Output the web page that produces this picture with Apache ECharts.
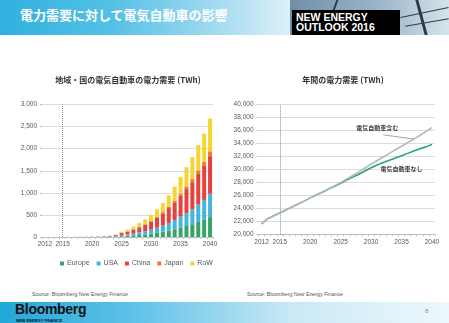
<!DOCTYPE html>
<html><head><meta charset="utf-8">
<script src="https://cdn.jsdelivr.net/npm/echarts@6/dist/echarts.min.js"></script>
<style>
html,body{margin:0;padding:0;width:449px;height:323px;overflow:hidden;background:#fff;font-family:"Liberation Sans",Arial,sans-serif;}
#hdr{position:absolute;left:0;top:0;width:449px;height:35px;background:linear-gradient(90deg,#2fb1df 0%,#55c0e6 25%,#a9dcf1 50%,#dff1f9 65%);}
#photo{position:absolute;left:290px;top:0;width:159px;height:35px;background:linear-gradient(90deg,#6f8ea6 0%,#9fb9cc 60%,#d6e3ec 100%);overflow:hidden;}
#photo i{position:absolute;background:#2d3a44;}
#ttl{position:absolute;left:20px;top:6px;font-family:"Noto Sans CJK JP";font-weight:bold;font-size:13px;color:#fff;letter-spacing:0px;line-height:17px;}
#neo{position:absolute;left:292px;top:10px;width:108px;height:25px;background:#000;color:#fff;font-family:"Liberation Sans",Arial;font-weight:bold;font-size:10.5px;line-height:9.5px;padding:3px 0 0 4px;box-sizing:border-box;}
#ftr{position:absolute;left:0;top:302px;width:449px;height:21px;background:linear-gradient(90deg,#22a7d9 0%,#5fc2e8 30%,#c9e9f6 65%,#eef8fc 100%);}
#bb{position:absolute;left:15px;top:301px;font-family:"Liberation Sans",Arial;font-weight:bold;font-size:14px;color:#111;letter-spacing:-0.3px;}
#nef{position:absolute;left:16px;top:317.5px;font-family:"Liberation Sans",Arial;font-weight:bold;font-size:4px;color:#111;}
#pg{position:absolute;left:425px;top:308px;font-size:6px;color:#888;}
.src{position:absolute;top:291px;font-size:5.3px;color:#555;}
#c{position:absolute;left:0;top:0;width:449px;height:323px;}
</style></head><body>
<div id="hdr"></div>
<div id="photo"><i style="left:40px;top:0;width:2px;height:35px;transform:skewX(-20deg)"></i><i style="left:130px;top:0;width:3px;height:35px;transform:skewX(15deg)"></i><i style="left:110px;top:12px;width:49px;height:1px;transform:rotate(-12deg)"></i><i style="left:115px;top:22px;width:44px;height:1px;transform:rotate(-10deg)"></i></div>
<div id="ttl">電力需要に対して電気自動車の影響</div>
<div id="neo">NEW ENERGY<br>OUTLOOK 2016</div>
<div class="src" style="left:32px">Source: Bloomberg New Energy Finance</div>
<div class="src" style="left:247px">Source: Bloomberg New Energy Finance</div>
<div id="ftr"></div>
<div id="bb">Bloomberg</div>
<div id="nef">NEW ENERGY FINANCE</div>
<div id="pg">8</div>
<div id="c"></div>
<script>
const years = ['2012','2013','2014','2015','2016','2017','2018','2019','2020','2021','2022','2023','2024','2025','2026','2027','2028','2029','2030','2031','2032','2033','2034','2035','2036','2037','2038','2039','2040'];
const europe = [0,0,0,0,1,1,1,1,2,3,4,6,10,19,27,36,47,60,75,95,118,147,175,210,250,290,340,390,450];
const usa    = [0,0,0,0,1,1,1,2,2,3,4,7,12,23,33,44,58,72,92,115,140,172,210,250,295,340,395,450,530];
const china  = [0,0,0,1,1,1,2,2,3,5,8,12,22,47,63,86,115,145,180,225,278,336,400,470,540,610,690,770,850];
const japan  = [0,0,0,0,0,0,0,0,0,1,1,1,2,4,6,8,11,14,18,22,27,33,40,50,60,72,85,95,110];
const row    = [0,0,0,0,0,0,0,0,1,2,3,4,8,27,41,61,84,109,135,168,207,257,315,380,435,498,570,635,740];
const withEV    = [21600,22400,22850,23300,23750,24200,24650,25100,25600,26050,26500,27000,27450,27950,28500,29050,29600,30200,30800,31350,31900,32450,33000,33550,34100,34650,35200,35800,36400];
const withoutEV = [21600,22400,22850,23300,23750,24200,24650,25100,25600,26050,26480,26950,27400,27850,28350,28800,29250,29750,30250,30650,31050,31400,31750,32100,32450,32800,33150,33450,33800];
const barNames = ['Europe','USA','China','Japan','RoW'];
const barColors = ['#35a466','#45b5de','#e8403d','#f07a2f','#f6d431'];
const leftTitle = '地域・国の電気自動車の電力需要 (TWh)';
const rightTitle = '年間の電力需要 (TWh)';
const noteWith = '電気自動車含む';
const noteWithout = '電気自動車なし';

const lab = {fontFamily:'Liberation Sans, Arial',fontSize:6.5,color:'#595959'};
const xAxisBase = (gi)=>({type:'category',gridIndex:gi,data:years,boundaryGap:true,
  axisLine:{lineStyle:{color:'#bfbfbf'}},axisTick:{show:true,interval:0,length:2,lineStyle:{color:'#bfbfbf'}},
  axisLabel:Object.assign({interval:0,margin:4,formatter:(v)=> (v==='2012'||(+v)%5===0)?v:''},lab)});
const yAxisBase = (gi,min,max,iv)=>({type:'value',gridIndex:gi,min:min,max:max,interval:iv,
  axisLine:{show:false},axisTick:{show:true,length:2,lineStyle:{color:'#bfbfbf'}},
  splitLine:{lineStyle:{color:'#dcdcdc'}},
  axisLabel:Object.assign({margin:5,formatter:(v)=>v.toLocaleString('en-US')},lab)});
const vline = {silent:true,symbol:'none',label:{show:false},lineStyle:{type:'dotted',color:'#8c8c8c',width:1},data:[{xAxis:'2015'}]};
const barData=[europe,usa,china,japan,row];
const series = barData.map((d,i)=>({name:barNames[i],type:'bar',stack:'a',xAxisIndex:0,yAxisIndex:0,data:d,barWidth:4,
  itemStyle:{color:barColors[i]},markLine:i===0?vline:undefined}));
series.push({name:'without',type:'line',xAxisIndex:1,yAxisIndex:1,data:withoutEV,showSymbol:false,lineStyle:{color:'#2aa56a',width:1.6},markLine:vline});
series.push({name:'with',type:'line',xAxisIndex:1,yAxisIndex:1,data:withEV,showSymbol:false,lineStyle:{color:'#b7b7b7',width:1.6}});
const chart = echarts.init(document.getElementById('c'),null,{renderer:'canvas'});
chart.setOption({
  animation:false,
  textStyle:{fontFamily:'Liberation Sans, Arial'},
  title:[{text:leftTitle,left:123,top:71,textAlign:'center',textStyle:{fontFamily:'Noto Sans CJK JP',fontSize:8,fontWeight:'bold',color:'#333'}},
         {text:rightTitle,left:338,top:71,textAlign:'center',textStyle:{fontFamily:'Noto Sans CJK JP',fontSize:8,fontWeight:'bold',color:'#333'}}],
  legend:{data:barNames,left:55,top:255,itemWidth:4,itemHeight:4,itemGap:7,icon:'rect',
    textStyle:{fontFamily:'Liberation Sans, Arial',fontSize:7,color:'#595959',padding:[0,0,0,-2]}},
  grid:[{left:42,right:236,top:104.5,bottom:86},{left:258.5,right:14,top:104.3,bottom:88.7}],
  xAxis:[xAxisBase(0),xAxisBase(1)],
  yAxis:[yAxisBase(0,0,3000,500),yAxisBase(1,20000,40000,2000)],
  series:series
});
const p1 = chart.convertToPixel({xAxisIndex:1,yAxisIndex:1},[19.7,35300]);
const p2 = chart.convertToPixel({xAxisIndex:1,yAxisIndex:1},[25,withEV[25]]);
const t1 = chart.convertToPixel({xAxisIndex:1,yAxisIndex:1},[19,36450]);
const t2 = chart.convertToPixel({xAxisIndex:1,yAxisIndex:1},[23,30150]);
chart.setOption({graphic:[
  {type:'line',shape:{x1:p1[0],y1:p1[1],x2:p2[0],y2:p2[1]},style:{stroke:'#8c8c8c',lineWidth:0.8}},
  {type:'text',x:t1[0],y:t1[1],style:{text:noteWith,font:'bold 6px "Noto Sans CJK JP"',fill:'#404040',textAlign:'center',textVerticalAlign:'middle'}},
  {type:'text',x:t2[0],y:t2[1],style:{text:noteWithout,font:'bold 6px "Noto Sans CJK JP"',fill:'#404040',textAlign:'center',textVerticalAlign:'middle'}}
]});
</script>
</body></html>
